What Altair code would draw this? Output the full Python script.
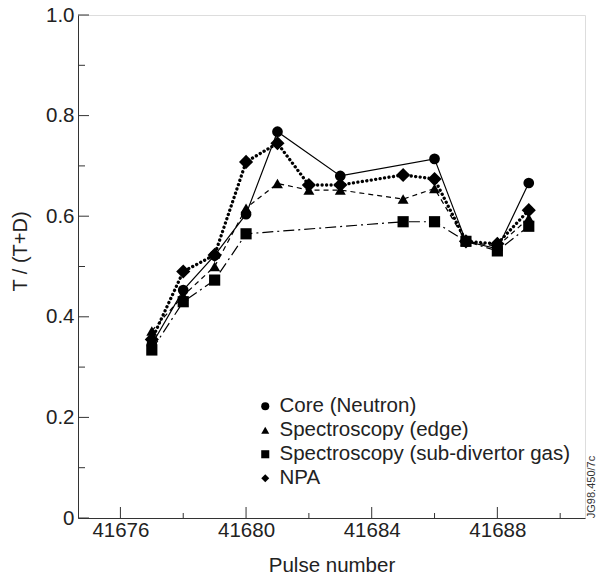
import altair as alt
import pandas as pd

# ---- data ----
series_names = ["Core (Neutron)", "Spectroscopy (edge)",
                "Spectroscopy (sub-divertor gas)", "NPA"]
shapes = ["circle", "triangle-up", "square", "diamond"]
marker_sizes = [115, 120, 125, 200]

pulse_core = [41677, 41678, 41679, 41680, 41681, 41683, 41686, 41687, 41688, 41689]
val_core = [0.345, 0.453, 0.522, 0.604, 0.768, 0.680, 0.714, 0.550, 0.535, 0.666]

pulse_edge = [41677, 41678, 41679, 41680, 41681, 41682, 41683, 41685, 41686, 41687, 41688, 41689]
val_edge = [0.372, 0.442, 0.500, 0.616, 0.665, 0.652, 0.652, 0.634, 0.655, 0.550, 0.540, 0.596]

pulse_sub = [41677, 41678, 41679, 41680, 41685, 41686, 41687, 41688, 41689]
val_sub = [0.334, 0.430, 0.473, 0.565, 0.589, 0.589, 0.550, 0.531, 0.580]

pulse_npa = [41677, 41678, 41679, 41680, 41681, 41682, 41683, 41685, 41686, 41687, 41688, 41689]
val_npa = [0.355, 0.490, 0.523, 0.708, 0.745, 0.662, 0.662, 0.682, 0.674, 0.550, 0.545, 0.612]

x_major = [41676, 41680, 41684, 41688]
x_minor = [41678, 41682, 41686, 41690]
y_major = [0.0, 0.2, 0.4, 0.6, 0.8, 1.0]
y_minor = [0.1, 0.3, 0.5, 0.7, 0.9]

FONT = "Liberation Sans"
W, H = 507, 503

frames = []
for name, p, v in [(series_names[0], pulse_core, val_core),
                   (series_names[1], pulse_edge, val_edge),
                   (series_names[2], pulse_sub, val_sub),
                   (series_names[3], pulse_npa, val_npa)]:
    frames.append(pd.DataFrame({"series": name, "pulse": p, "value": v}))
df = pd.concat(frames, ignore_index=True)

xscale = alt.Scale(domain=[41674.65, 41690.79], nice=False, zero=False)
yscale = alt.Scale(domain=[0, 1], nice=False, zero=False)

x_axis = alt.Axis(title="Pulse number", values=x_major, format="d",
                  ticks=False, grid=False, labelPadding=2,
                  labelFontSize=20.5, titleFontSize=20.5,
                  labelFont=FONT, titleFont=FONT,
                  labelColor="#222", titleColor="#222",
                  titleFontWeight="normal", titlePadding=15,
                  domainColor="#333", labelFlush=False)
y_axis = alt.Axis(title="T / (T+D)", values=y_major,
                  labelExpr="datum.value == 0 ? '0' : format(datum.value, '.1f')",
                  ticks=False, grid=False, labelPadding=4,
                  labelFontSize=20.5, titleFontSize=20,
                  labelFont=FONT, titleFont=FONT,
                  labelColor="#222", titleColor="#222",
                  titleFontWeight="normal", titlePadding=15, titleY=236,
                  domainColor="#333", labelFlush=False)


def X(field):
    return alt.X(field, type="quantitative", scale=xscale, axis=x_axis, title="Pulse number")


def Y(field):
    return alt.Y(field, type="quantitative", scale=yscale, axis=y_axis, title="T / (T+D)")


styles = {
    series_names[0]: dict(strokeWidth=1.2),
    series_names[1]: dict(strokeWidth=1.2, strokeDash=[5, 4]),
    series_names[2]: dict(strokeWidth=1.2, strokeDash=[11, 4, 2, 4]),
    series_names[3]: dict(strokeWidth=3.3, strokeDash=[0.1, 4.4], strokeCap="round"),
}

shape_scale = alt.Scale(domain=series_names, range=shapes)
legend = alt.Legend(title=None, orient="none", legendX=177, legendY=381,
                    labelFontSize=20.5, labelFont=FONT, labelColor="#222",
                    symbolSize=65, symbolFillColor="black",
                    symbolStrokeColor="black", symbolStrokeWidth=0,
                    labelOffset=4, rowPadding=3, padding=0, labelLimit=400)

layers = []
for name in series_names:
    sub = df[df.series == name]
    layers.append(alt.Chart(sub).mark_line(color="black", **styles[name])
                  .encode(x=X("pulse"), y=Y("value"), order="pulse:Q"))

for name, s in zip(series_names, marker_sizes):
    sub = df[df.series == name]
    layers.append(alt.Chart(sub).mark_point(filled=True, color="black", opacity=1, size=s)
                  .encode(x=X("pulse"), y=Y("value"),
                          shape=alt.Shape("series:N", scale=shape_scale, legend=legend)))

# inward tick marks
tick_layers = [
    alt.Chart(pd.DataFrame({"value": y_major})).mark_rule(color="#333", strokeWidth=1).encode(
        y=Y("value"), x=alt.value(0), x2=alt.value(11)),
    alt.Chart(pd.DataFrame({"value": y_minor})).mark_rule(color="#333", strokeWidth=1).encode(
        y=Y("value"), x=alt.value(0), x2=alt.value(7)),
    alt.Chart(pd.DataFrame({"pulse": x_major})).mark_rule(color="#333", strokeWidth=1).encode(
        x=X("pulse"), y=alt.value(H), y2=alt.value(H - 11)),
    alt.Chart(pd.DataFrame({"pulse": x_minor})).mark_rule(color="#333", strokeWidth=1).encode(
        x=X("pulse"), y=alt.value(H), y2=alt.value(H - 5)),
]

stamp = alt.Chart(pd.DataFrame({"t": ["JG98.450/7c"]})).mark_text(
    angle=270, fontSize=11, font=FONT, color="#333", align="center", baseline="middle"
).encode(text="t:N", x=alt.value(W + 7), y=alt.value(472))

chart = alt.layer(*layers, *tick_layers, stamp).properties(
    width=W, height=H,
    padding={"left": 78, "top": 15, "right": 13, "bottom": 58},
    autosize="none",
).configure_view(stroke="#222", strokeWidth=1.2).configure(background="white")

chart.save("out.html", embed_options={"renderer": "svg", "actions": False})
